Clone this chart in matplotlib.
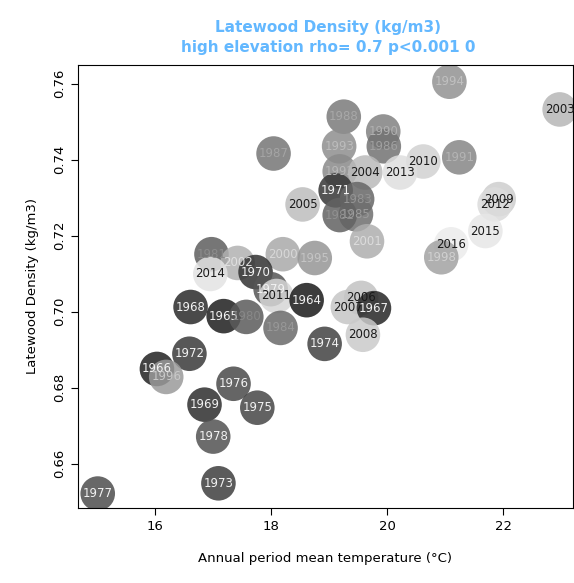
import matplotlib
matplotlib.use("Agg")
import matplotlib.pyplot as plt
import numpy as np

years = [1988, 1993, 1990, 1986, 1987, 1991, 2010, 1992, 2004, 2013, 1971, 1983,
         2009, 2012, 2005, 1985, 1982, 2015, 2001, 2016, 1998, 1981, 2000, 1995,
         2002, 2014, 1970, 1979, 2011, 1964, 2006, 2007, 1967, 1968, 1965, 1980,
         1984, 2008, 1974, 1972, 1966, 1996, 1976, 1969, 1975, 1978, 1973, 1977,
         1994, 2003]
temp = [19.25, 19.17, 19.93, 19.94, 18.04, 21.24, 20.62, 19.18, 19.62, 20.22, 19.11, 19.48,
        21.92, 21.85, 18.54, 19.46, 19.18, 21.69, 19.65, 21.10, 20.93, 16.97, 18.20, 18.75,
        17.42, 16.95, 17.73, 17.99, 18.09, 18.61, 19.55, 19.32, 19.77, 16.61, 17.18, 17.57,
        18.16, 19.58, 18.92, 16.59, 16.03, 16.19, 17.35, 16.85, 17.76, 17.00, 17.09, 15.01,
        21.07, 22.97]
density = [0.7513, 0.7435, 0.7474, 0.7435, 0.7416, 0.7406, 0.7395, 0.7369, 0.7366, 0.7366, 0.7319, 0.7296,
           0.7296, 0.7282, 0.7282, 0.7256, 0.7254, 0.7212, 0.7185, 0.7177, 0.7143, 0.7151, 0.7151, 0.7141,
           0.7128, 0.7099, 0.7104, 0.7059, 0.7041, 0.7030, 0.7036, 0.7012, 0.7009, 0.7012, 0.6988, 0.6986,
           0.6957, 0.6939, 0.6915, 0.6889, 0.6849, 0.6828, 0.6810, 0.6755, 0.6747, 0.6671, 0.6548, 0.6521,
           0.7605, 0.7532]

fig = plt.figure(figsize=(5.74, 5.83), dpi=100)
ax = fig.add_axes([78 / 574, 1 - 508 / 583, 495 / 574, 443 / 583])

for yr, x, y in zip(years, temp, density):
    g = 0.1 + 0.82 * (yr - 1964) / 52
    ax.scatter(x, y, s=620, color=str(g), alpha=0.85, edgecolors="none")
    if g < 0.35:
        tc = 0.95
    elif g < 0.7:
        tc = g + 0.18
    else:
        tc = 0.1
    ax.text(x, y, str(yr), ha="center", va="center", fontsize=8.5, color=str(tc))

ax.set_xlim(14.67, 23.2)
ax.set_ylim(0.6483, 0.7649)
ax.set_xticks([16, 18, 20, 22])
ax.set_yticks([0.66, 0.68, 0.70, 0.72, 0.74, 0.76])
ax.set_yticklabels(["0.66", "0.68", "0.70", "0.72", "0.74", "0.76"], rotation=90, va="center")
ax.tick_params(labelsize=9.5, length=5)
ax.set_xlabel("Annual period mean temperature (°C)", fontsize=9.5, labelpad=14)
ax.set_ylabel("Latewood Density (kg/m3)", fontsize=9.5, labelpad=10)
fig.text(0.572, 0.965, "Latewood Density (kg/m3)\nhigh elevation rho= 0.7 p<0.001 0",
         ha="center", va="top", fontsize=11, fontweight="bold", color="#63b8ff",
         linespacing=1.4)

fig.savefig("out.png", dpi=100)
